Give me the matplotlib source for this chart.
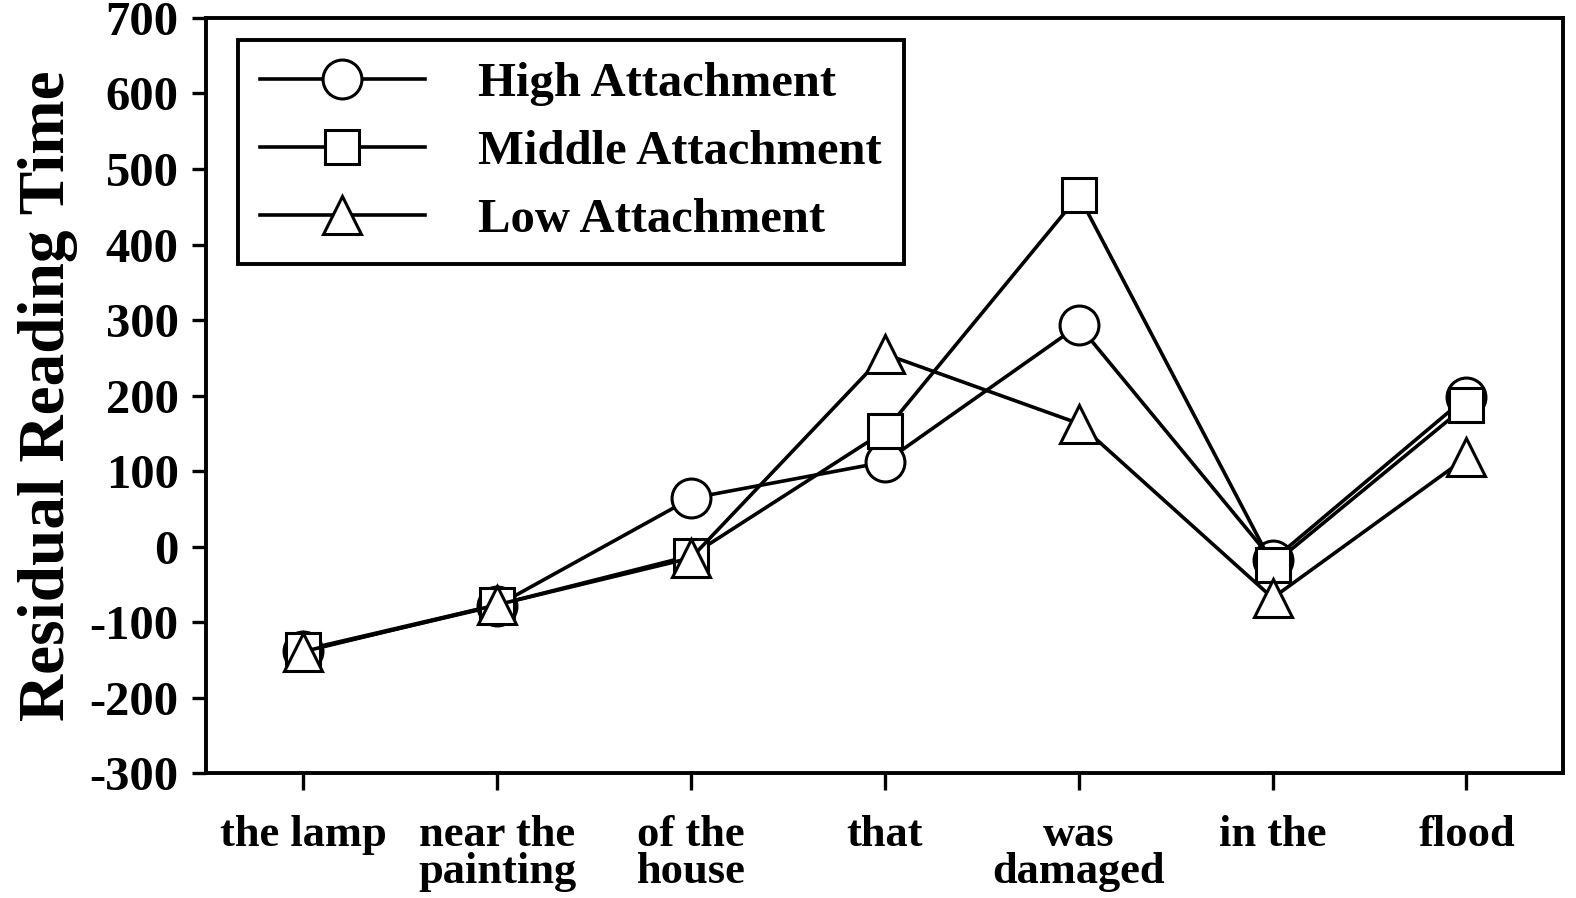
import matplotlib.pyplot as plt

plt.rcParams['font.family'] = ['Liberation Serif', 'DejaVu Serif']
plt.rcParams['font.weight'] = 'bold'
plt.rcParams['axes.labelweight'] = 'bold'
plt.rcParams['axes.unicode_minus'] = False

# regions of the sentence
regions = ['the lamp', 'near the\npainting', 'of the\nhouse', 'that',
           'was\ndamaged', 'in the', 'flood']

# residual reading times (ms)
high_attach = [-138, -78, 64, 112, 293, -18, 198]
middle_attach = [-137, -77, -12, 153, 465, -24, 187]
low_attach = [-139, -77, -15, 255, 163, -68, 118]

series = [
    ('High Attachment', high_attach, 'o', 28),
    ('Middle Attachment', middle_attach, 's', 25),
    ('Low Attachment', low_attach, '^', 28),
]

fig = plt.figure(figsize=(15.76, 8.98), dpi=100)
ax = fig.add_axes([0.131, 0.139, 0.861, 0.841])

x = list(range(len(regions)))
for label, vals, marker, ms in series:
    ax.plot(x, vals, color='black', lw=2.6, marker=marker, ms=ms,
            mfc='white', mec='black', mew=2.2, label=label)

ax.set_xlim(-0.5, len(regions) - 0.5)
ax.set_ylim(-300, 700)
ax.set_yticks(range(-300, 701, 100))
ax.set_xticks(x)
ax.set_xticklabels(regions, fontsize=32, linespacing=0.9)
ax.tick_params(axis='y', labelsize=35, length=10, width=2.4, pad=10,
               direction='out')
ax.tick_params(axis='x', length=12, width=2.4, pad=18, direction='out')
for s in ax.spines.values():
    s.set_linewidth(2.8)

ax.set_ylabel('Residual Reading Time', fontsize=47, labelpad=8)

leg = ax.legend(loc='upper left', bbox_to_anchor=(0.023, 0.971),
                borderaxespad=0, fontsize=35, handlelength=3.4,
                handletextpad=1.1, labelspacing=0.5, borderpad=0.45,
                fancybox=False, framealpha=1, edgecolor='black')
leg.get_frame().set_linewidth(2.8)

fig.savefig('out.png', dpi=100)
